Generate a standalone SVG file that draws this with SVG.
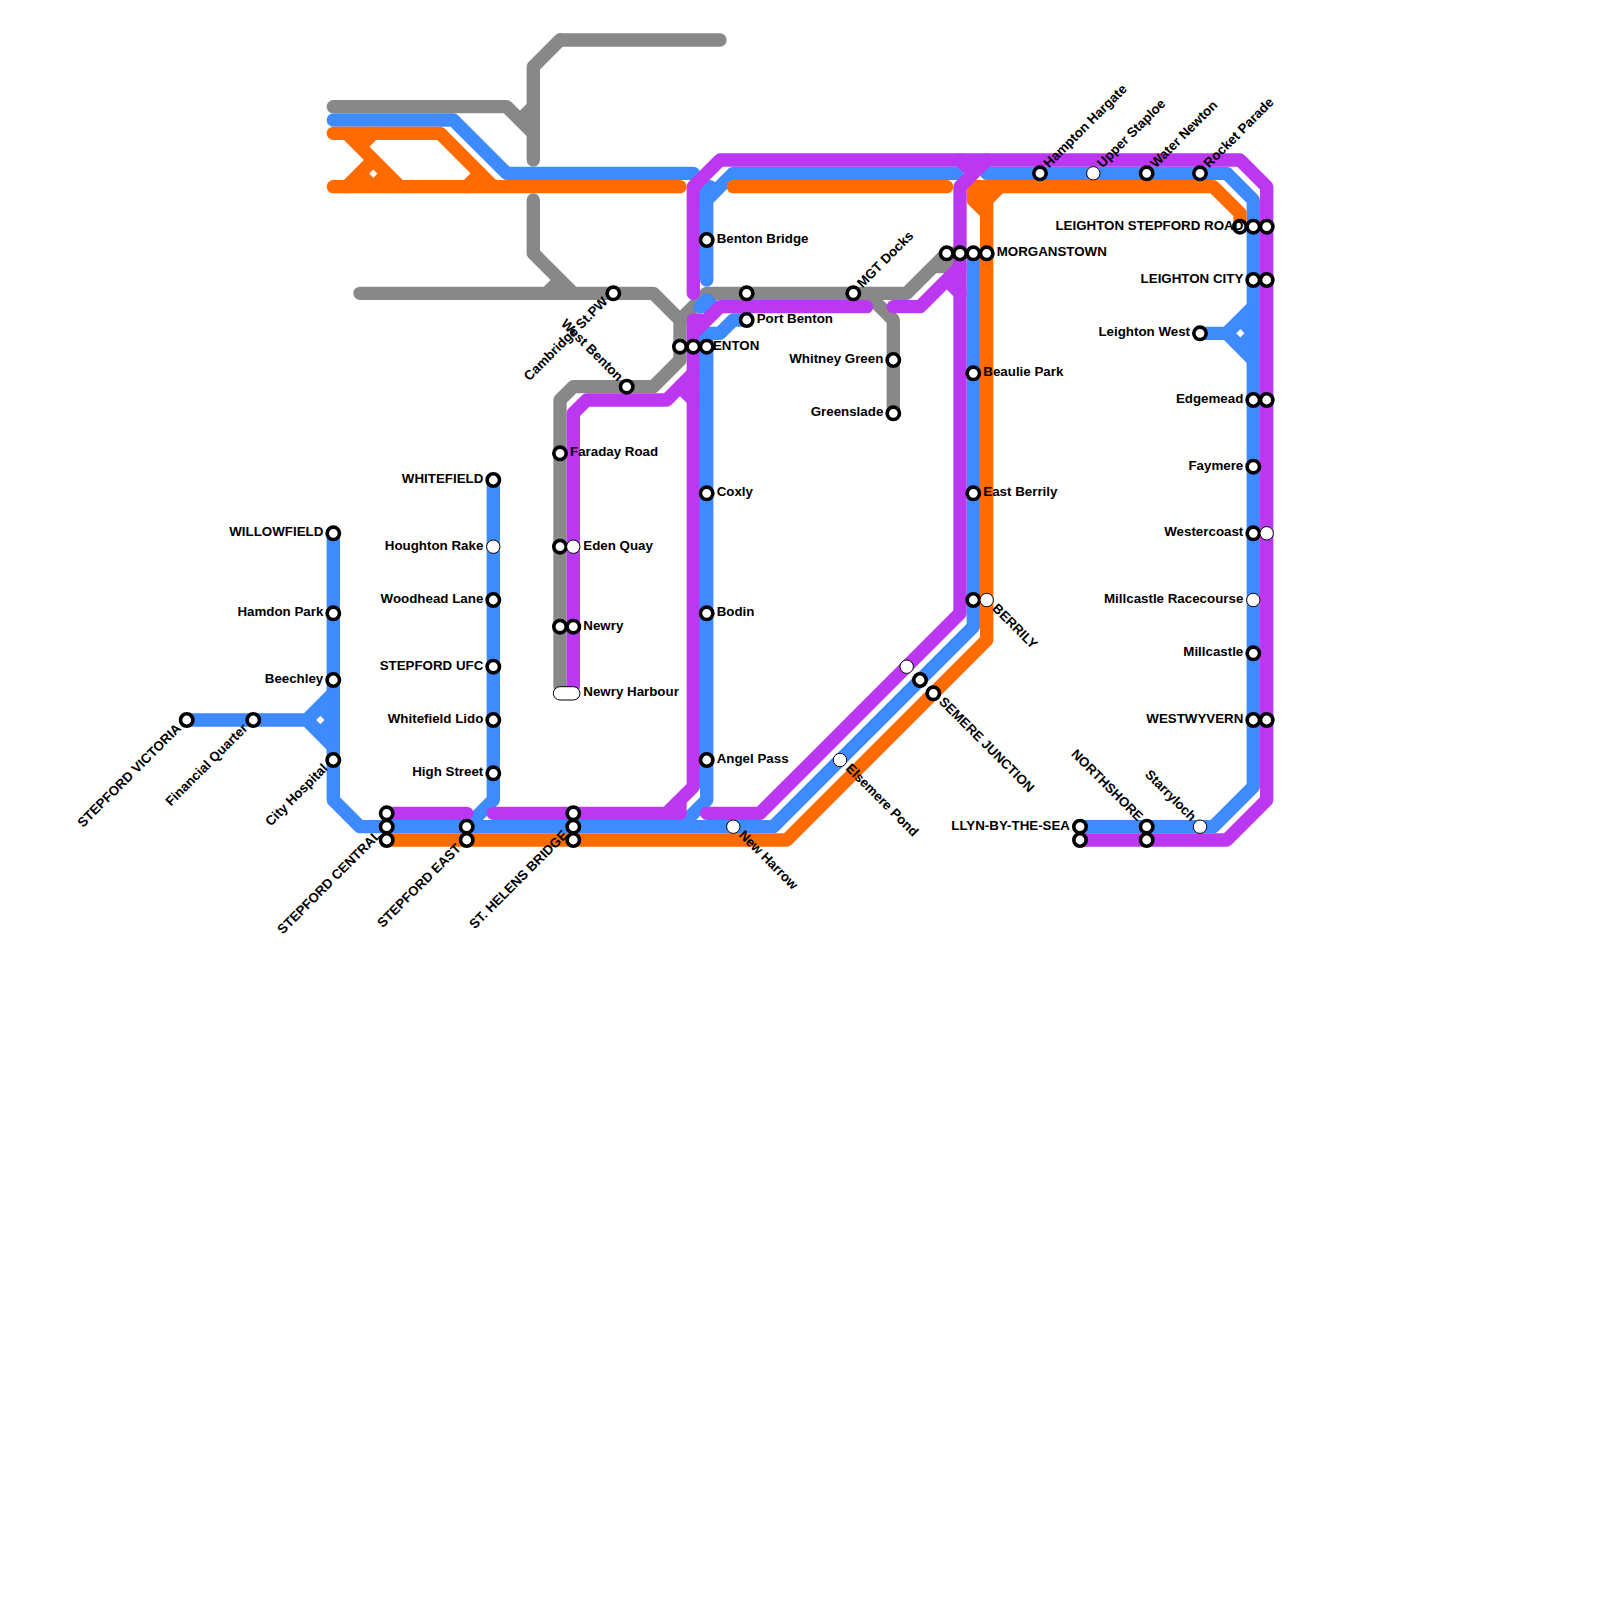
<svg xmlns="http://www.w3.org/2000/svg" width="1600" height="1600" viewBox="0 0 1600 1600">
<style>
.ln{fill:none;stroke-width:13.33;stroke-linecap:round;stroke-linejoin:round}
.gray{stroke:#888888}.blue{stroke:#3d8bff}.orange{stroke:#ff6b00}.purple{stroke:#bb38f0}
.fb{fill:#3d8bff;fill-rule:evenodd}.fo{fill:#ff6b00;fill-rule:evenodd}
.st{fill:#fff;stroke:#000;stroke-width:3.6}
.wt{fill:#fff;stroke:#000;stroke-width:1}
text{font-family:"Liberation Sans",Arial,sans-serif;font-size:13.33px;font-weight:700;fill:#000}
.e{text-anchor:end}
</style>
<rect width="1600" height="1600" fill="#fff"/>
<g id="connectors">
<g id="line-gray" class="ln gray">
<path d="M560,40H720M560,40L533.3,66.7V160"/>
<path d="M333.3,106.7H506.7L533.3,133.3M533.3,106.7L520,120"/>
<path d="M533.3,200V253.3L573.3,293.3M560,280L546.7,293.3"/>
<path d="M360,293.3H653.3L680,320V360L653.3,386.7H573.3L560,400V686.7"/>
<path d="M680,320L706.7,293.3H906.7L946.7,253.3H953M933.3,266.7H953"/>
<path d="M866.7,293.3L893.3,320V413.3"/>
</g>
<g id="line-blue" class="ln blue">
<path d="M333.3,120H453.3L506.7,173.3H693.3"/>
<path d="M333.3,533.3V800L360,826.7H773.3L973.3,626.7V253.3"/>
<path d="M186.7,720H306.7L333.3,693.3M306.7,720L333.3,746.7"/>
<path class="fb" style="stroke:none" d="M306.7,720L333.3,693.3V746.7ZM320,715.5L315.5,720L320,724.5L324.5,720Z"/>
<path d="M493.3,480V800L466.7,826.7"/>
<path d="M746.7,320H733.3L720,333.3H706.7V800L680,826.7"/>
<path d="M700,306.7L706.7,300L712,305M706.7,306.7H700"/>
<path d="M706.7,280V186.7H710M706.7,200L733.3,173.3H956.7"/>
<path d="M986.7,173.3H1226.7L1253.3,200V786.7L1213.3,826.7H1080"/>
<path d="M1200,333.3H1226.7L1253.3,306.7M1226.7,333.3L1253.3,360"/>
<path class="fb" style="stroke:none" d="M1226.7,333.3L1253.3,306.7V360ZM1240,328.8L1235.5,333.3L1240,337.8L1244.5,333.3Z"/>
</g>
<g id="line-orange" class="ln orange">
<path d="M333.3,133.3H440L493.3,186.7M333.3,186.7H680"/>
<path d="M346.7,133.3L400,186.7M346.7,186.7L373.3,160M373.3,133.3L360,146.7M466.7,186.7L480,173.3"/>
<path class="fo" style="stroke:none" d="M346.7,186.7L373.3,160L400,186.7ZM373.3,168.8L368.8,173.3L373.3,177.8L377.8,173.3Z"/>
<path d="M733.3,186.7H946.7"/>
<path d="M386.7,840H786.7L986.7,640V200L1000,186.7M973.3,186.7V200L986.7,213.3M973.3,193.3H986.7M973.3,186.7H1213.3L1240,213.3V226.7"/>
</g>
<g id="line-purple" class="ln purple">
<path d="M693.3,293.3V186.7L720,160H1240L1266.7,186.7V800L1226.7,840H1080"/>
<path d="M706.7,813.3H760L960,613.3V186.7L986.7,160M960,160L973.3,173.3"/>
<path d="M893.3,306.7H920L960,266.7M946.7,280L960,293.3"/>
<path d="M866.7,306.7H720L693.3,333.3M693.3,320H700M693.3,320V786.7L666.7,813.3M680,800V813.3M493.3,813.3H680"/>
<path d="M386.7,813.3H466.7"/>
<path d="M573.3,686.7V413.3L586.7,400H666.7L693.3,373.3M680,386.7L693.3,400"/>
</g>
</g>
<g id="n-stepford-victoria"><text class="e" transform="translate(179.7,727) rotate(-45)" y="3">STEPFORD VICTORIA</text><circle class="st" cx="186.7" cy="720" r="6.2"/></g>
<g id="n-financial-quarter"><text class="e" transform="translate(246.3,727) rotate(-45)" y="3">Financial Quarter</text><circle class="st" cx="253.3" cy="720" r="6.2"/></g>
<g id="n-willowfield"><text class="e" x="323.3" y="536.3">WILLOWFIELD</text><circle class="st" cx="333.3" cy="533.3" r="6.2"/></g>
<g id="n-hamdon-park"><text class="e" x="323.3" y="616.3">Hamdon Park</text><circle class="st" cx="333.3" cy="613.3" r="6.2"/></g>
<g id="n-beechley"><text class="e" x="323.3" y="683">Beechley</text><circle class="st" cx="333.3" cy="680" r="6.2"/></g>
<g id="n-city-hospital"><text class="e" transform="translate(326.3,767) rotate(-45)" y="3">City Hospital</text><circle class="st" cx="333.3" cy="760" r="6.2"/></g>
<g id="n-stepford-central"><text class="e" transform="translate(379.7,833.7) rotate(-45)" y="3">STEPFORD CENTRAL</text><circle class="st" cx="386.7" cy="813.3" r="6.2"/><circle class="st" cx="386.7" cy="826.7" r="6.2"/><circle class="st" cx="386.7" cy="840" r="6.2"/></g>
<g id="n-stepford-east"><text class="e" transform="translate(459.7,847) rotate(-45)" y="3">STEPFORD EAST</text><circle class="st" cx="466.7" cy="826.7" r="6.2"/><circle class="st" cx="466.7" cy="840" r="6.2"/></g>
<g id="n-whitefield"><text class="e" x="483.3" y="483">WHITEFIELD</text><circle class="st" cx="493.3" cy="480" r="6.2"/></g>
<g id="n-houghton-rake"><text class="e" x="483.3" y="549.7">Houghton Rake</text><circle class="wt" cx="493.3" cy="546.7" r="6.7"/></g>
<g id="n-woodhead-lane"><text class="e" x="483.3" y="603">Woodhead Lane</text><circle class="st" cx="493.3" cy="600" r="6.2"/></g>
<g id="n-stepford-ufc"><text class="e" x="483.3" y="669.7">STEPFORD UFC</text><circle class="st" cx="493.3" cy="666.7" r="6.2"/></g>
<g id="n-whitefield-lido"><text class="e" x="483.3" y="723">Whitefield Lido</text><circle class="st" cx="493.3" cy="720" r="6.2"/></g>
<g id="n-high-street"><text class="e" x="483.3" y="776.3">High Street</text><circle class="st" cx="493.3" cy="773.3" r="6.2"/></g>
<g id="n-st-helens-bridge"><text class="e" transform="translate(566.3,833.7) rotate(-45)" y="3">ST. HELENS BRIDGE</text><circle class="st" cx="573.3" cy="813.3" r="6.2"/><circle class="st" cx="573.3" cy="826.7" r="6.2"/><circle class="st" cx="573.3" cy="840" r="6.2"/></g>
<g id="n-faraday-road"><text x="570" y="456.3">Faraday Road</text><circle class="st" cx="560" cy="453.3" r="6.2"/></g>
<g id="n-eden-quay"><text x="583.3" y="549.7">Eden Quay</text><circle class="st" cx="560" cy="546.7" r="6.2"/><circle class="wt" cx="573.3" cy="546.7" r="6.7"/></g>
<g id="n-newry"><text x="583.3" y="629.7">Newry</text><circle class="st" cx="560" cy="626.7" r="6.2"/><circle class="st" cx="573.3" cy="626.7" r="6.2"/></g>
<g id="n-newry-harbour"><text x="583.3" y="696.3">Newry Harbour</text><rect class="wt" x="553.3" y="686.7" width="26.7" height="13.3" rx="6.67"/></g>
<g id="n-cambridge-st-pw"><text class="e" transform="translate(606.3,300.3) rotate(-45)" y="3">Cambridge St.PW</text><circle class="st" cx="613.3" cy="293.3" r="6.2"/></g>
<g id="n-west-benton"><text class="e" transform="translate(619.7,379.7) rotate(45)" y="3">West Benton</text><circle class="st" cx="626.7" cy="386.7" r="6.2"/></g>
<g id="n-benton"><text x="703.3" y="349.7">BENTON</text><circle class="st" cx="680" cy="346.7" r="6.2"/><circle class="st" cx="693.3" cy="346.7" r="6.2"/><circle class="st" cx="706.7" cy="346.7" r="6.2"/></g>
<g id="n-benton-bridge"><text x="716.7" y="243">Benton Bridge</text><circle class="st" cx="706.7" cy="240" r="6.2"/></g>
<g id="n-coxly"><text x="716.7" y="496.3">Coxly</text><circle class="st" cx="706.7" cy="493.3" r="6.2"/></g>
<g id="n-bodin"><text x="716.7" y="616.3">Bodin</text><circle class="st" cx="706.7" cy="613.3" r="6.2"/></g>
<g id="n-angel-pass"><text x="716.7" y="763">Angel Pass</text><circle class="st" cx="706.7" cy="760" r="6.2"/></g>
<g id="n-port-benton"><text x="756.7" y="323">Port Benton</text><circle class="st" cx="746.7" cy="293.3" r="6.2"/><circle class="st" cx="746.7" cy="320" r="6.2"/></g>
<g id="n-mgt-docks"><text transform="translate(860.3,286.3) rotate(-45)" y="3">MGT Docks</text><circle class="st" cx="853.3" cy="293.3" r="6.2"/></g>
<g id="n-whitney-green"><text class="e" x="883.3" y="363">Whitney Green</text><circle class="st" cx="893.3" cy="360" r="6.2"/></g>
<g id="n-greenslade"><text class="e" x="883.3" y="416.3">Greenslade</text><circle class="st" cx="893.3" cy="413.3" r="6.2"/></g>
<g id="n-new-harrow"><text transform="translate(740.3,833.7) rotate(45)" y="3">New Harrow</text><circle class="wt" cx="733.3" cy="826.7" r="6.7"/></g>
<g id="n-elsemere-pond"><text transform="translate(847,767) rotate(45)" y="3">Elsemere Pond</text><circle class="wt" cx="840" cy="760" r="6.7"/></g>
<g id="n-semere-junction"><text transform="translate(940.3,700.3) rotate(45)" y="3">SEMERE JUNCTION</text><circle class="wt" cx="906.7" cy="666.7" r="6.7"/><circle class="st" cx="920" cy="680" r="6.2"/><circle class="st" cx="933.3" cy="693.3" r="6.2"/></g>
<g id="n-morganstown"><text x="996.7" y="256.3">MORGANSTOWN</text><circle class="st" cx="946.7" cy="253.3" r="6.2"/><circle class="st" cx="960" cy="253.3" r="6.2"/><circle class="st" cx="973.3" cy="253.3" r="6.2"/><circle class="st" cx="986.7" cy="253.3" r="6.2"/></g>
<g id="n-beaulie-park"><text x="983.3" y="376.3">Beaulie Park</text><circle class="st" cx="973.3" cy="373.3" r="6.2"/></g>
<g id="n-east-berrily"><text x="983.3" y="496.3">East Berrily</text><circle class="st" cx="973.3" cy="493.3" r="6.2"/></g>
<g id="n-berrily"><text transform="translate(993.7,607) rotate(45)" y="3">BERRILY</text><circle class="st" cx="973.3" cy="600" r="6.2"/><circle class="wt" cx="986.7" cy="600" r="6.7"/></g>
<g id="n-hampton-hargate"><text transform="translate(1047,166.3) rotate(-45)" y="3">Hampton Hargate</text><circle class="st" cx="1040" cy="173.3" r="6.2"/></g>
<g id="n-upper-staploe"><text transform="translate(1100.3,166.3) rotate(-45)" y="3">Upper Staploe</text><circle class="wt" cx="1093.3" cy="173.3" r="6.7"/></g>
<g id="n-water-newton"><text transform="translate(1153.7,166.3) rotate(-45)" y="3">Water Newton</text><circle class="st" cx="1146.7" cy="173.3" r="6.2"/></g>
<g id="n-rocket-parade"><text transform="translate(1207,166.3) rotate(-45)" y="3">Rocket Parade</text><circle class="st" cx="1200" cy="173.3" r="6.2"/></g>
<g id="n-leighton-stepford-road"><circle class="st" cx="1240" cy="226.7" r="6.2"/><text class="e" x="1243.3" y="229.7">LEIGHTON STEPFORD ROAD</text><circle class="st" cx="1253.3" cy="226.7" r="6.2"/><circle class="st" cx="1266.7" cy="226.7" r="6.2"/></g>
<g id="n-leighton-city"><text class="e" x="1243.3" y="283">LEIGHTON CITY</text><circle class="st" cx="1253.3" cy="280" r="6.2"/><circle class="st" cx="1266.7" cy="280" r="6.2"/></g>
<g id="n-leighton-west"><text class="e" x="1190" y="336.3">Leighton West</text><circle class="st" cx="1200" cy="333.3" r="6.2"/></g>
<g id="n-edgemead"><text class="e" x="1243.3" y="403">Edgemead</text><circle class="st" cx="1253.3" cy="400" r="6.2"/><circle class="st" cx="1266.7" cy="400" r="6.2"/></g>
<g id="n-faymere"><text class="e" x="1243.3" y="469.7">Faymere</text><circle class="st" cx="1253.3" cy="466.7" r="6.2"/></g>
<g id="n-westercoast"><text class="e" x="1243.3" y="536.3">Westercoast</text><circle class="st" cx="1253.3" cy="533.3" r="6.2"/><circle class="wt" cx="1266.7" cy="533.3" r="6.7"/></g>
<g id="n-millcastle-racecourse"><text class="e" x="1243.3" y="603">Millcastle Racecourse</text><circle class="wt" cx="1253.3" cy="600" r="6.7"/></g>
<g id="n-millcastle"><text class="e" x="1243.3" y="656.3">Millcastle</text><circle class="st" cx="1253.3" cy="653.3" r="6.2"/></g>
<g id="n-westwyvern"><text class="e" x="1243.3" y="723">WESTWYVERN</text><circle class="st" cx="1253.3" cy="720" r="6.2"/><circle class="st" cx="1266.7" cy="720" r="6.2"/></g>
<g id="n-llyn-by-the-sea"><text class="e" x="1070" y="829.7">LLYN-BY-THE-SEA</text><circle class="st" cx="1080" cy="826.7" r="6.2"/><circle class="st" cx="1080" cy="840" r="6.2"/></g>
<g id="n-northshore"><text class="e" transform="translate(1139.7,819.7) rotate(45)" y="3">NORTHSHORE</text><circle class="st" cx="1146.7" cy="826.7" r="6.2"/><circle class="st" cx="1146.7" cy="840" r="6.2"/></g>
<g id="n-starryloch"><text class="e" transform="translate(1193,819.7) rotate(45)" y="3">Starryloch</text><circle class="wt" cx="1200" cy="826.7" r="6.7"/></g>
</svg>
